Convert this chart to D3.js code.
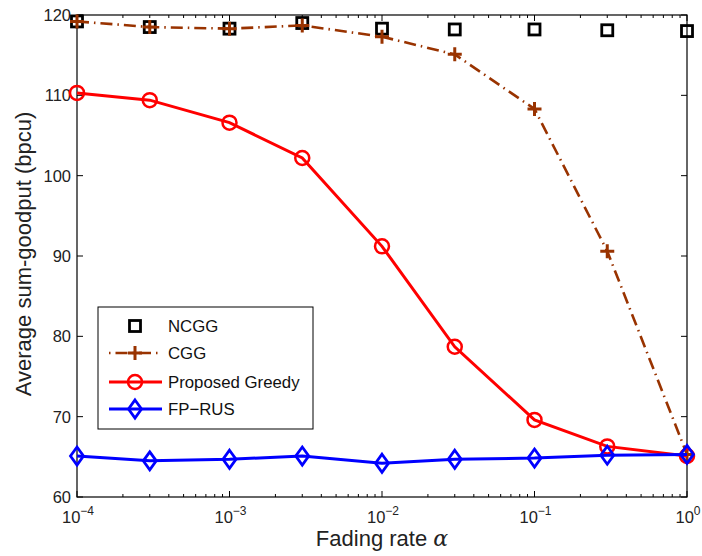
<!DOCTYPE html>
<html><head><meta charset="utf-8">
<script src="https://cdn.jsdelivr.net/npm/d3@7"></script>
<style>body{margin:0;background:#fff}svg{display:block}text{font-family:"Liberation Sans",Arial,sans-serif}</style>
</head><body>
<svg id="c" width="702" height="556"></svg>
<script>
const alphas = [1e-4, 3e-4, 1e-3, 3e-3, 1e-2, 3e-2, 1e-1, 3e-1, 1];
const ncgg = [119.2, 118.5, 118.3, 119.0, 118.3, 118.2, 118.2, 118.1, 118.0];
const cgg = [119.2, 118.5, 118.3, 118.7, 117.3, 115.1, 108.3, 90.6, 65.3];
const greedy = [110.3, 109.4, 106.6, 102.2, 91.2, 78.7, 69.6, 66.3, 65.1];
const fprus = [65.1, 64.5, 64.7, 65.1, 64.2, 64.7, 64.85, 65.2, 65.3];
const yTicks = [60, 70, 80, 90, 100, 110, 120];
const xTickExps = [-4, -3, -2, -1, 0];
const seriesNames = ["NCGG", "CGG", "Proposed Greedy", "FP\u2212RUS"];

const svg = d3.select("#c");
const L = 77, R = 687, T = 15, B = 497;
const x = d3.scaleLog().domain([1e-4, 1]).range([L, R]);
const y = d3.scaleLinear().domain([60, 120]).range([B, T]);

const minor = [];
for (let e = -4; e < 0; e++) for (let k = 2; k <= 9; k++) minor.push(k * Math.pow(10, e));
const g = svg.append("g").attr("stroke", "#000").attr("stroke-width", 1);
minor.forEach(v => {
  g.append("line").attr("x1", x(v)).attr("x2", x(v)).attr("y1", B).attr("y2", B - 3);
  g.append("line").attr("x1", x(v)).attr("x2", x(v)).attr("y1", T).attr("y2", T + 3);
});
xTickExps.forEach(e => {
  const v = Math.pow(10, e);
  g.append("line").attr("x1", x(v)).attr("x2", x(v)).attr("y1", B).attr("y2", B - 6);
  g.append("line").attr("x1", x(v)).attr("x2", x(v)).attr("y1", T).attr("y2", T + 6);
});
yTicks.forEach(v => {
  g.append("line").attr("x1", L).attr("x2", L + 6).attr("y1", y(v)).attr("y2", y(v));
  g.append("line").attr("x1", R).attr("x2", R - 6).attr("y1", y(v)).attr("y2", y(v));
});
svg.append("rect").attr("x", L).attr("y", T).attr("width", R - L).attr("height", B - T)
  .attr("fill", "none").attr("stroke", "#000").attr("stroke-width", 1.2);

yTicks.forEach(v => {
  svg.append("text").attr("x", L - 6).attr("y", y(v) + 6).attr("text-anchor", "end")
    .attr("font-size", 16.5).attr("fill", "#222").text(v);
});
xTickExps.forEach(e => {
  const t = svg.append("text").attr("x", x(Math.pow(10, e)) + 1).attr("y", 523)
    .attr("text-anchor", "middle").attr("font-size", 16.5).attr("fill", "#222");
  t.append("tspan").text("10");
  t.append("tspan").attr("dy", -8).attr("font-size", 12).text(e === 0 ? "0" : "\u2212" + Math.abs(e));
});
const xt = svg.append("text").attr("x", 382).attr("y", 546).attr("text-anchor", "middle")
  .attr("font-size", 22).attr("fill", "#222");
xt.append("tspan").text("Fading rate ");
xt.append("tspan").attr("font-style", "italic").attr("font-family", "DejaVu Serif, serif").text("\u03b1");
svg.append("text").attr("transform", "translate(31,254) rotate(-90)").attr("text-anchor", "middle")
  .attr("font-size", 22).attr("fill", "#222").text("Average sum-goodput (bpcu)");

const line = d3.line().x((d, i) => x(alphas[i])).y(d => y(d));
const brown = "#993300";

function square(sel, cx, cy) {
  sel.append("rect").attr("x", cx - 5.5).attr("y", cy - 5.5).attr("width", 11).attr("height", 11)
    .attr("fill", "none").attr("stroke", "#000").attr("stroke-width", 2.8);
}
function plus(sel, cx, cy) {
  sel.append("path").attr("d", `M${cx - 7},${cy}H${cx + 7}M${cx},${cy - 7}V${cy + 7}`)
    .attr("stroke", brown).attr("stroke-width", 3).attr("fill", "none");
}
function circ(sel, cx, cy) {
  sel.append("circle").attr("cx", cx).attr("cy", cy).attr("r", 7)
    .attr("fill", "none").attr("stroke", "#f00").attr("stroke-width", 2.5);
}
function diam(sel, cx, cy) {
  sel.append("path").attr("d", `M${cx},${cy - 9}L${cx + 6.5},${cy}L${cx},${cy + 9}L${cx - 6.5},${cy}Z`)
    .attr("fill", "none").attr("stroke", "#00f").attr("stroke-width", 2.8);
}

const p = svg.append("g");
ncgg.forEach((v, i) => square(p, x(alphas[i]), y(v)));
p.append("path").attr("d", line(cgg)).attr("fill", "none").attr("stroke", brown)
  .attr("stroke-width", 2.6).attr("stroke-dasharray", "12,5,1.5,5");
cgg.forEach((v, i) => plus(p, x(alphas[i]), y(v)));
p.append("path").attr("d", line(greedy)).attr("fill", "none").attr("stroke", "#f00").attr("stroke-width", 3);
greedy.forEach((v, i) => circ(p, x(alphas[i]), y(v)));
p.append("path").attr("d", line(fprus)).attr("fill", "none").attr("stroke", "#00f").attr("stroke-width", 3);
fprus.forEach((v, i) => diam(p, x(alphas[i]), y(v)));

const lg = svg.append("g");
lg.append("rect").attr("x", 98).attr("y", 307).attr("width", 215).attr("height", 122)
  .attr("fill", "#fff").attr("stroke", "#000").attr("stroke-width", 1);
const rows = [326, 353, 382, 409];
const lx1 = 109, lx2 = 162, mx = 135;
square(lg, mx, rows[0]);
lg.append("line").attr("x1", lx1).attr("x2", lx2).attr("y1", rows[1]).attr("y2", rows[1])
  .attr("stroke", brown).attr("stroke-width", 2.6).attr("stroke-dasharray", "1.5,5,12,5");
plus(lg, mx, rows[1]);
lg.append("line").attr("x1", lx1).attr("x2", lx2).attr("y1", rows[2]).attr("y2", rows[2])
  .attr("stroke", "#f00").attr("stroke-width", 3);
circ(lg, mx, rows[2]);
lg.append("line").attr("x1", lx1).attr("x2", lx2).attr("y1", rows[3]).attr("y2", rows[3])
  .attr("stroke", "#00f").attr("stroke-width", 3);
diam(lg, mx, rows[3]);
seriesNames.forEach((n, i) => {
  lg.append("text").attr("x", 168).attr("y", rows[i] + 6).attr("font-size", 16.8).attr("fill", "#111").text(n);
});
</script>
</body></html>
